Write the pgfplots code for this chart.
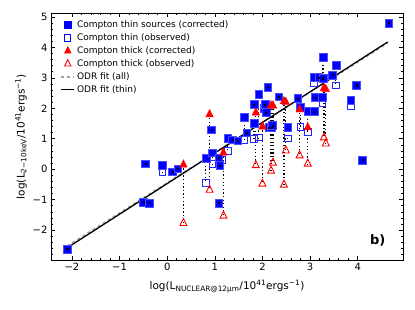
\documentclass[border=0pt]{standalone}
\usepackage{fontspec}
\setmainfont{DejaVu Sans}
\usepackage{pgfplots}
\pgfplotsset{compat=1.18}
\definecolor{odrgray}{RGB}{160,160,160}
\begin{document}
\begin{tikzpicture}
\begin{axis}[
  scale only axis, width=352pt, height=247pt,
  xmin=-2.44, xmax=4.95, ymin=-2.98, ymax=5.13,
  xtick={-2,-1,0,1,2,3,4}, xticklabels={−2,−1,0,1,2,3,4},
  ytick={-3,-2,-1,0,1,2,3,4,5}, yticklabels={−3,−2,−1,0,1,2,3,4,5},
  minor x tick num=4, minor y tick num=4,
  tick align=inside, major tick length=4pt, minor tick length=2pt,
  every tick/.style={black, line width=0.6pt},
  axis line style={line width=0.8pt},
  ticklabel style={font=\fontsize{10}{11}\selectfont},
  xlabel={log(L\textsubscript{NUCLEAR@12μm}/10\textsuperscript{41}ergs\textsuperscript{−1})},
  ylabel={log(L\textsubscript{2−10keV}/10\textsuperscript{41}ergs\textsuperscript{−1})},
  every axis x label/.style={at={(axis description cs:0.5,-0.108)}, anchor=center, font=\fontsize{10.5}{11}\selectfont},
  every axis y label/.style={at={(axis description cs:-0.085,0.5)}, rotate=90, anchor=center, font=\fontsize{10.5}{11}\selectfont},
  legend style={at={(0.018,0.985)}, anchor=north west, draw=none, fill=none, font=\fontsize{9}{11}\selectfont, row sep=0.6pt},
  legend cell align=left,
  legend image code/.code={\draw[mark repeat=2,mark phase=2,#1] plot coordinates {(0.07cm,0cm) (0.3cm,0cm) (0.53cm,0cm)};},
  unbounded coords=jump,
]
\addlegendimage{only marks, mark=square*, mark size=3.4pt, blue}
\addlegendentry{Compton thin sources (corrected)}
\addlegendimage{only marks, mark=square, mark size=3.1pt, blue, line width=1pt, mark options={fill=white}}
\addlegendentry{Compton thin (observed)}
\addlegendimage{only marks, mark=triangle*, mark size=3.9pt, red, mark options={yscale=1.15}}
\addlegendentry{Compton thick (corrected)}
\addlegendimage{only marks, mark=triangle, mark size=3.7pt, red, line width=0.9pt, mark options={fill=white, yscale=1.15}}
\addlegendentry{Compton thick (observed)}
\addlegendimage{odrgray, dashed, line width=1.4pt}
\addlegendentry{ODR fit (all)}
\addlegendimage{black, line width=1.3pt}
\addlegendentry{ODR fit (thin)}

% Compton thin observed
\addplot[forget plot, only marks, mark=square, mark size=3.4pt, blue!85, line width=1pt, mark options={fill=white}] coordinates {
(-0.10,-0.11) (0.81,-0.45) (0.95,0.18) (1.16,0.31) (1.27,0.61) (1.62,0.96)
(1.82,1.00) (1.92,1.04) (2.08,1.84) (2.53,1.01) (2.80,1.40) (2.95,1.21)
(3.08,2.82) (3.26,2.16) (3.54,2.75) (3.85,2.06)
};
% Compton thin corrected
\addplot[forget plot, only marks, mark=square*, mark size=3.9pt, blue, mark options={draw=blue!70}] coordinates {
(-2.10,-2.62) (-0.50,-1.07) (-0.37,-1.11) (-0.46,0.18) (-0.10,0.14) (0.11,-0.08)
(0.22,0.02) (0.81,0.35) (0.93,1.30) (0.95,0.54) (1.08,0.38) (1.10,0.12)
(1.08,-1.11) (1.27,1.02) (1.37,0.97) (1.48,0.94) (1.62,1.70) (1.67,1.20)
(1.82,2.13) (1.82,1.50) (1.92,2.46) (2.04,2.00) (2.05,2.13) (2.07,1.86)
(2.11,2.70) (2.13,1.37) (2.19,1.37) (2.21,1.44) (2.34,2.38) (2.53,1.37)
(2.74,2.33) (2.80,2.03) (2.95,1.90) (3.08,1.90) (3.08,3.02) (3.11,2.36)
(3.18,3.02) (3.26,2.36) (3.27,3.67) (3.27,2.99) (3.47,3.09) (3.54,3.42)
(3.85,2.26) (3.97,2.76) (4.10,0.31) (4.65,4.80)
};
% Compton thick observed
\addplot[forget plot, only marks, mark=triangle, mark size=4.0pt, red, line width=0.9pt, mark options={fill=white, yscale=1.15}] coordinates {
(0.34,-1.77) (0.89,-0.68) (1.18,-1.53) (1.86,0.13) (2.00,-0.48) (2.18,-0.05)
(2.22,0.21) (2.45,-0.51) (2.49,0.61) (2.78,0.45) (2.95,0.18) (3.29,1.04) (3.33,0.84)
};
% Compton thick corrected
\addplot[forget plot, only marks, mark=triangle*, mark size=4.3pt, red, mark options={yscale=1.15}] coordinates {
(0.34,0.15) (0.89,1.80) (1.18,0.54) (1.86,1.86) (2.00,1.40) (2.18,2.09)
(2.22,2.09) (2.45,2.23) (2.49,2.20) (2.78,1.96) (2.95,1.37) (3.29,2.66) (3.33,2.63)
};
% ODR fits
\addplot[forget plot, odrgray, dashed, line width=1.4pt] coordinates {(-2.10,-2.52) (4.63,4.14)};
\addplot[forget plot, black, line width=1.3pt] coordinates {(-2.10,-2.58) (4.63,4.18)};
% dotted connectors
\addplot[forget plot, black, line width=1.3pt, dash pattern=on 1.3pt off 2.3pt] coordinates {
(-0.10,0.14) (-0.10,-0.11) (-0.10,nan)
(0.81,0.35) (0.81,-0.45) (0.81,nan)
(0.95,0.54) (0.95,0.18) (0.95,nan)
(1.27,1.02) (1.27,0.61) (1.27,nan)
(1.62,1.70) (1.62,0.96) (1.62,nan)
(1.82,1.50) (1.82,1.00) (1.82,nan)
(1.92,2.46) (1.92,1.04) (1.92,nan)
(2.07,2.00) (2.07,1.84) (2.07,nan)
(2.53,1.37) (2.53,1.01) (2.53,nan)
(2.80,2.03) (2.80,1.40) (2.80,nan)
(2.95,1.90) (2.95,1.21) (2.95,nan)
(3.08,3.02) (3.08,2.82) (3.08,nan)
(3.26,2.36) (3.26,2.16) (3.26,nan)
(3.27,3.67) (3.27,2.99) (3.27,nan)
(3.54,3.42) (3.54,2.75) (3.54,nan)
(3.85,2.26) (3.85,2.06) (3.85,nan)
(0.34,0.15) (0.34,-1.77) (0.34,nan)
(0.89,1.80) (0.89,-0.68) (0.89,nan)
(1.18,0.54) (1.18,-1.53) (1.18,nan)
(1.86,1.86) (1.86,0.13) (1.86,nan)
(2.00,1.40) (2.00,-0.48) (2.00,nan)
(2.18,2.09) (2.18,-0.05) (2.18,nan)
(2.22,2.09) (2.22,0.21) (2.22,nan)
(2.45,2.23) (2.45,-0.51) (2.45,nan)
(2.49,2.20) (2.49,0.61) (2.49,nan)
(2.78,1.96) (2.78,0.45) (2.78,nan)
(2.95,1.37) (2.95,0.18) (2.95,nan)
(3.29,2.66) (3.29,1.04) (3.29,nan)
(3.33,2.63) (3.33,0.84)
};
% small dots inside corrected markers
\addplot[forget plot, only marks, mark=square*, mark size=0.55pt, black] coordinates {
(-2.10,-2.62) (-0.50,-1.07) (-0.37,-1.11) (-0.46,0.18) (0.11,-0.08)
(0.22,0.02) (0.93,1.30) (1.08,0.38) (1.10,0.12)
(1.08,-1.11) (1.37,0.97) (1.48,0.94) (1.67,1.20)
(1.82,2.13) (2.05,2.13) (2.07,1.86)
(2.11,2.70) (2.13,1.37) (2.19,1.37) (2.21,1.44) (2.34,2.38)
(2.74,2.33) (3.08,1.90) (3.11,2.36)
(3.18,3.02) (3.27,2.99) (3.47,3.09)
(3.97,2.76) (4.10,0.31) (4.65,4.80)
};
\node[font=\bfseries\fontsize{13}{13}\selectfont] at (axis cs:4.42,-2.33) {b)};
\end{axis}
\pgfresetboundingbox
\path ([xshift=-51pt,yshift=-49pt]current axis.south west) rectangle ([xshift=12pt,yshift=13pt]current axis.north east);
\end{tikzpicture}
\end{document}
